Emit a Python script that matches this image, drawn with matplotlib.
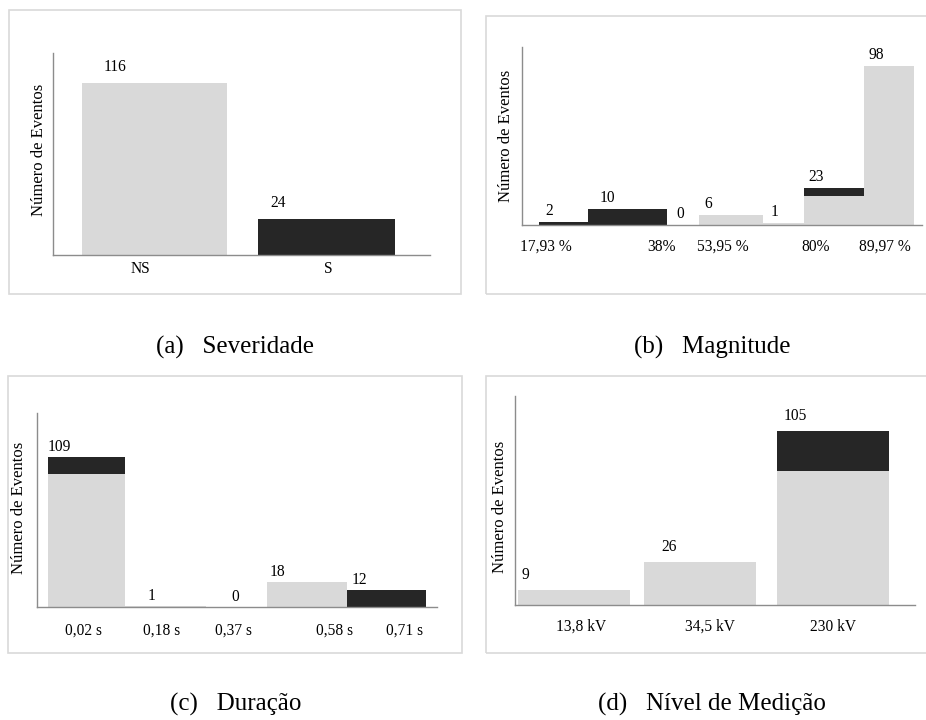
import matplotlib
matplotlib.use('Agg')
import matplotlib.pyplot as plt
from matplotlib.patches import Rectangle

# event counts per class: non-severe (NS) and severe (S) parts of each bar
sev_ticks = ['NS', 'S']
sev_ns = [116, 0]
sev_s = [0, 24]

mag_ticks = ['17,93 %', '38%', '53,95 %', '80%', '89,97 %']
mag_ns = [0, 0, 0, 6, 1, 18, 98]
mag_s = [2, 10, 0, 0, 0, 5, 0]

dur_ticks = ['0,02 s', '0,18 s', '0,37 s', '0,58 s', '0,71 s']
dur_ns = [97, 1, 0, 18, 0]
dur_s = [12, 0, 0, 0, 12]

niv_ticks = ['13,8 kV', '34,5 kV', '230 kV']
niv_ns = [9, 26, 81]
niv_s = [0, 0, 24]

GRAY = '#d9d9d9'
DARK = '#262626'
AXIS = '#8c8c8c'
W, H = 926, 720

plt.rcParams['font.family'] = ['Liberation Serif', 'DejaVu Serif']
plt.rcParams['font.size'] = 11.2

fig = plt.figure(figsize=(W / 100, H / 100), dpi=100)


def frame(left, top, right, bottom):
    fig.patches.append(Rectangle((left / W, 1 - bottom / H), (right - left) / W,
                                 (bottom - top) / H, transform=fig.transFigure,
                                 fill=False, ec=GRAY, lw=1.2))


def panel(box, ymax, lefts, widths, ns, s, label_x, label_dy,
          ticks, tick_x, tick_pad, ylab_pos):
    left, top, right, bottom = box
    ax = fig.add_axes([left / W, 1 - bottom / H, (right - left) / W, (bottom - top) / H])
    ax.bar(lefts, ns, widths, align='edge', color=GRAY, lw=0)
    ax.bar(lefts, s, widths, bottom=ns, align='edge', color=DARK, lw=0)
    for x, a, b in zip(label_x, ns, s):
        ax.annotate(str(a + b), (x, a + b), xytext=(0, label_dy * 0.72),
                    textcoords='offset points', ha='center', va='center')
    ax.set_xlim(0, right - left)
    ax.set_ylim(0, ymax)
    ax.set_xticks(tick_x, ticks)
    ax.set_yticks([])
    ax.tick_params(axis='x', length=0, pad=tick_pad)
    for side in ['top', 'right']:
        ax.spines[side].set_visible(False)
    for side in ['left', 'bottom']:
        ax.spines[side].set_color(AXIS)
        ax.spines[side].set_linewidth(1.0)
    ax.patch.set_alpha(0)
    ax.text(ylab_pos[0], ylab_pos[1], 'Número de Eventos', rotation=90,
            ha='center', va='center', fontsize=12, transform=ax.transAxes)
    return ax


# (a) Severidade
frame(9, 10, 461, 294)
panel((53, 53, 430, 255), 136, [29, 205], [145, 137], sev_ns, sev_s,
      [62, 225], 16, sev_ticks, [87, 275], 4.3, (-0.037, 0.52))

# (b) Magnitude
frame(486, 16, 940, 294)
panel((522, 47, 922, 225), 110,
      [17, 66, 145, 177, 241, 282, 342], [49, 79, 32, 64, 41, 60, 50],
      mag_ns, mag_s, [27, 85, 158, 186, 253, 294, 354], 11,
      mag_ticks, [24, 139, 201, 294, 363], 10, (-0.04, 0.5))

# (c) Duração
frame(8, 376, 462, 653)
panel((37, 413, 437, 607), 141,
      [11, 88, 169, 230, 310], [77, 81, 61, 80, 79],
      dur_ns, dur_s, [22, 115, 198, 240, 322], 10,
      dur_ticks, [46, 125, 196, 298, 368], 11.5, (-0.045, 0.51))

# (d) Nível de Medição
frame(486, 376, 940, 653)
panel((515, 396, 915, 605), 126,
      [3, 129, 262], [112, 112, 112],
      niv_ns, niv_s, [10, 154, 280], 15,
      niv_ticks, [66, 195, 318], 10, (-0.0375, 0.47))

captions = [('(a)   Severidade', 235, 347), ('(b)   Magnitude', 712, 347),
            ('(c)   Duração', 236, 704), ('(d)   Nível de Medição', 712, 704)]
for txt, x, y in captions:
    fig.text(x / W, 1 - y / H, txt, ha='center', va='center', fontsize=18)

fig.savefig('out.png', dpi=100)
